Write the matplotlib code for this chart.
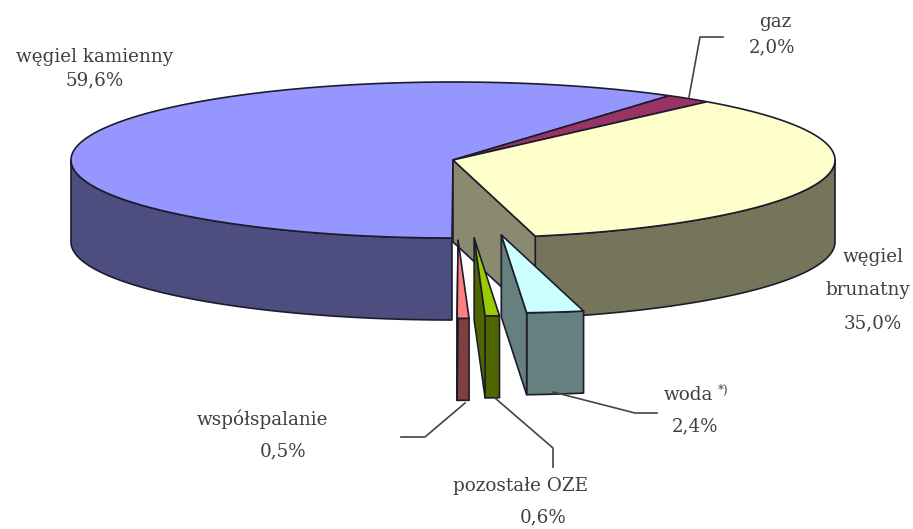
import numpy as np
import matplotlib
matplotlib.use('Agg')
import matplotlib.pyplot as plt
from matplotlib.patches import Polygon

# udzialy paliw, w kolejnosci zgodnej z ruchem wskazowek
names = ['węgiel kamienny', 'gaz', 'węgiel brunatny', 'woda', 'pozostałe OZE', 'współspalanie']
values = [59.6, 2.0, 35.0, 2.4, 0.6, 0.5]
explode = [0, 0, 0, 0.97, 1.0, 1.03]
nudge_x = [0, 0, 0, -4, 3, 0]
top_colors = ['#9696FF', '#993366', '#FFFFCC', '#CCFFFF', '#99CC00', '#FF8080']
side_colors = ['#4D4D80', '#4D1A33', '#75755C', '#668080', '#4D6600', '#804040']
face_colors = ['#4D4D80', '#4D1A33', '#8A8A70', '#668080', '#4D6600', '#804040']
start_angle = 55.5

CX, CY = 453, 160
RX, RY = 382, 78
DEPTH = 82
EDGE = '#1c1c2c'

plt.rcParams['font.family'] = ['DejaVu Serif', 'Liberation Serif']
fig = plt.figure(figsize=(9.13, 5.29), dpi=100)
ax = fig.add_axes([0, 0, 1, 1])
ax.set_xlim(0, 913)
ax.set_ylim(529, 0)
ax.axis('off')


def pt(a, cx, cy, dy=0):
    a = np.radians(a)
    return np.column_stack([cx + RX * np.cos(a), cy - RY * np.sin(a) + dy])


def poly(p, color, z):
    ax.add_patch(Polygon(p, closed=True, facecolor=color, edgecolor=EDGE,
                         linewidth=1.2, joinstyle='round', zorder=z))


# katy wycinkow liczone z wartosci
shares = np.array(values) / sum(values) * 360
angle = start_angle
starts = {}
for i in [1, 2, 3, 4, 5, 0]:
    starts[i] = (angle, angle - shares[i])
    angle -= shares[i]

z = 1
for i in range(len(values)):
    hi, lo = starts[i]
    mid = np.radians((hi + lo) / 2)
    cx = CX + RX * explode[i] * np.cos(mid) + nudge_x[i]
    cy = CY - RY * explode[i] * np.sin(mid)
    arc = np.linspace(hi, lo, 200)
    top = pt(arc, cx, cy)
    apex = np.array([[cx, cy]])

    # bok zewnetrzny - tylko dolna polowa elipsy
    vis = arc[np.sin(np.radians(arc)) <= 0.001]
    if len(vis) > 1:
        up = pt(vis, cx, cy)
        down = pt(vis, cx, cy, DEPTH)
        poly(np.vstack([up, down[::-1]]), side_colors[i], z)
        z += 1

    # sciana przekroju od strony srodka
    if i in (2, 3, 4, 5):
        corner = pt(np.array([lo]), cx, cy)
        poly(np.vstack([apex, corner, corner + [0, DEPTH], apex + [0, DEPTH]]), face_colors[i], z)
        z += 1
    poly(np.vstack([apex, top]), top_colors[i], z)
    z += 1

# podpisy
text_color = '#404040'
fs = 13.2
labels = [
    (95, 57, 'węgiel kamienny'), (95, 80, '59,6%'),
    (775, 22, 'gaz'), (772, 47, '2,0%'),
    (873, 257, 'węgiel'), (868, 290, 'brunatny'), (873, 323, '35,0%'),
    (688, 395, 'woda'), (695, 426, '2,4%'),
    (262, 419, 'współspalanie'), (283, 451, '0,5%'),
    (521, 486, 'pozostałe OZE'), (543, 517, '0,6%'),
]
for x, y, s in labels:
    ax.text(x, y, s, ha='center', va='center', fontsize=fs, color=text_color, zorder=50)
ax.text(718, 390, '*)', ha='left', va='center', fontsize=8.5, color=text_color, zorder=50)

# linie odniesienia
leaders = [
    ([689, 700, 723], [97, 37, 37]),
    ([553, 635, 657], [392, 413, 413]),
    ([465, 425, 401], [403, 437, 437]),
    ([495, 553, 553], [398, 448, 467]),
]
for xs, ys in leaders:
    ax.plot(xs, ys, color='#444444', lw=1.2, zorder=40)

fig.savefig('out.png', dpi=100, facecolor='white')
